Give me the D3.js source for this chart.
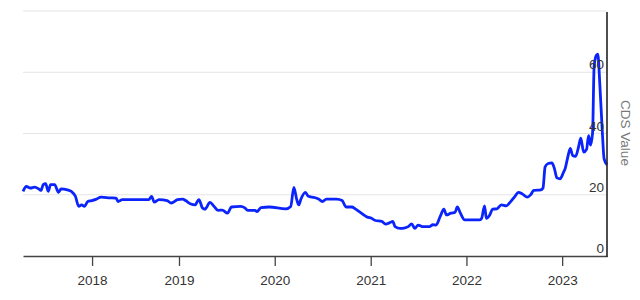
<!DOCTYPE html>
<meta charset="utf-8">
<script src="https://d3js.org/d3.v7.min.js"></script>
<style>
  body { margin: 0; background: #fff; }
  text { font-family: "Liberation Sans", Arial, sans-serif; }
</style>
<div id="chart"></div>
<script>

// weekly-ish CDS readings
var dates = ["2017-03-17","2017-03-31","2017-04-17","2017-05-05","2017-05-22","2017-05-31","2017-06-10","2017-06-20","2017-07-01","2017-07-11",
  "2017-07-28","2017-08-13","2017-08-24","2017-09-19","2017-10-06","2017-10-23","2017-11-06","2017-11-18","2017-11-30","2017-12-14",
  "2017-12-31","2018-01-17","2018-02-08","2018-03-17","2018-04-12","2018-04-20","2018-05-08","2018-08-27","2018-09-08","2018-09-19",
  "2018-10-09","2018-11-12","2018-11-29","2018-12-26","2019-01-15","2019-01-26","2019-02-15","2019-03-03","2019-03-18","2019-04-01",
  "2019-04-10","2019-04-29","2019-05-15","2019-05-30","2019-06-15","2019-07-05","2019-07-20","2019-08-24","2019-09-09","2019-09-20",
  "2019-10-18","2019-10-25","2019-11-10","2019-12-11","2020-02-12","2020-03-02","2020-03-14","2020-03-25","2020-04-02","2020-04-10",
  "2020-04-27","2020-05-08","2020-05-31","2020-06-16","2020-07-01","2020-07-16","2020-08-24","2020-09-14","2020-09-29","2020-10-21",
  "2020-11-03","2020-11-26","2020-12-19","2021-01-04","2021-01-19","2021-02-12","2021-02-27","2021-03-15","2021-03-26","2021-04-04",
  "2021-04-23","2021-05-08","2021-05-24","2021-06-06","2021-06-18","2021-07-01","2021-07-17","2021-08-13","2021-08-26","2021-09-07",
  "2021-09-23","2021-10-07","2021-10-17","2021-11-03","2021-11-19","2021-11-27","2021-12-09","2021-12-25","2022-02-21","2022-02-28",
  "2022-03-11","2022-03-18","2022-03-31","2022-04-11","2022-04-27","2022-05-14","2022-06-02","2022-06-17","2022-07-05","2022-07-18",
  "2022-08-03","2022-08-21","2022-09-03","2022-09-15","2022-10-12","2022-10-20","2022-10-28","2022-11-09","2022-11-23","2022-12-02",
  "2022-12-12","2022-12-24","2023-01-06","2023-01-13","2023-01-21","2023-02-01","2023-02-10","2023-02-21","2023-03-05","2023-03-13",
  "2023-03-24","2023-04-04","2023-04-12","2023-04-19","2023-04-27","2023-05-03","2023-05-12","2023-05-17","2023-05-25","2023-06-03",
  "2023-06-10","2023-06-21"];
var cds = [21.1,22.7,22.2,22.5,21.9,21.4,23.3,23.6,21.1,23.3,
  23.3,20.8,21.9,21.6,21.1,19.5,16.2,16.7,16.2,17.8,
  18.1,18.5,19.2,19.0,18.9,17.8,18.4,18.4,19.5,17.6,
  18.4,18.1,17.3,18.4,18.6,18.1,17.0,16.7,18.4,15.6,
  15.3,17.5,16.2,14.9,15.0,14.0,16.0,16.2,15.7,14.9,
  14.9,14.5,15.8,16.0,15.4,16.2,22.4,18.4,16.7,18.6,
  20.8,19.5,19.1,18.6,17.8,18.6,18.6,18.1,16.0,16.0,
  15.4,14.0,12.7,12.3,11.6,11.3,10.4,10.9,11.3,9.6,
  9.0,9.1,9.6,10.5,9.0,10.1,9.6,9.6,10.2,10.1,
  12.9,15.3,13.4,14.0,14.3,16.0,14.0,11.8,11.8,12.3,
  16.4,12.3,13.4,15.3,15.4,16.7,16.4,17.6,19.5,20.8,
  20.2,19.2,20.0,21.4,21.6,22.2,29.1,30.2,30.4,28.7,
  25.5,25.2,27.3,28.7,31.7,35.1,32.8,32.5,35.8,38.5,
  33.9,34.8,39.3,36.2,40.2,62.1,65.6,65.9,55.5,40.8,
  31.7,29.8];
var yTicks = [0, 20, 40, 60];
var yGrid = [20, 40, 60, 80];

var parse = d3.timeParse("%Y-%m-%d");
var data = dates.map(function(d, i) { return {date: parse(d), value: cds[i]}; });

var W = 640, H = 300;
var plotLeft = 23, plotRight = 607, plotTop = 11, plotBottom = 256;

var svg = d3.select("#chart").append("svg")
  .attr("width", W).attr("height", H);

// x spacing in the original is not quite uniform; pin it at 2019
var x = d3.scaleTime()
  .domain([data[0].date, parse("2019-01-01"), data[data.length - 1].date])
  .range([plotLeft, 179, plotRight]);
var y = d3.scaleLinear().domain([0, 80]).range([plotBottom, plotTop]);

// gridlines
svg.append("g").selectAll("line")
  .data(yGrid).enter().append("line")
    .attr("x1", plotLeft).attr("x2", plotRight)
    .attr("y1", function(d) { return y(d); })
    .attr("y2", function(d) { return y(d); })
    .attr("stroke", "#e4e4e4").attr("stroke-width", 1);

// x axis
var xAxis = svg.append("g")
  .attr("transform", "translate(0," + plotBottom + ")")
  .call(d3.axisBottom(x)
    .ticks(d3.timeYear.every(1))
    .tickFormat(d3.timeFormat("%Y"))
    .tickSize(10).tickPadding(9).tickSizeOuter(0));
xAxis.select(".domain").attr("stroke", "#444").attr("stroke-width", 1.3);
xAxis.selectAll(".tick line").attr("stroke", "#444").attr("stroke-width", 1.3);
xAxis.selectAll(".tick text").attr("fill", "#333").style("font-size", "13.5px")
  .style("font-family", "'Liberation Sans', Arial, sans-serif");

// the line
var line = d3.line()
  .curve(d3.curveMonotoneX)
  .x(function(d) { return x(d.date); })
  .y(function(d) { return y(d.value); });

svg.append("path")
  .datum(data)
  .attr("fill", "none")
  .attr("stroke", "#0a24fb")
  .attr("stroke-width", 2.8)
  .attr("stroke-linejoin", "round")
  .attr("d", line);

// right axis line
svg.append("line")
  .attr("x1", plotRight).attr("x2", plotRight)
  .attr("y1", plotTop + 1).attr("y2", plotBottom + 1)
  .attr("stroke", "#222").attr("stroke-width", 1.6);

// y tick labels sit inside the plot, above each gridline
svg.append("g").selectAll("text")
  .data(yTicks).enter().append("text")
    .attr("x", plotRight - 3)
    .attr("y", function(d) { return y(d) - 3; })
    .attr("text-anchor", "end")
    .attr("fill", "#333")
    .style("font-size", "13.5px")
    .text(function(d) { return d; });

svg.append("text")
  .attr("transform", "translate(621," + 133 + ") rotate(90)")
  .attr("text-anchor", "middle")
  .attr("fill", "#777")
  .style("font-size", "13.5px")
  .text("CDS Value");

</script>
